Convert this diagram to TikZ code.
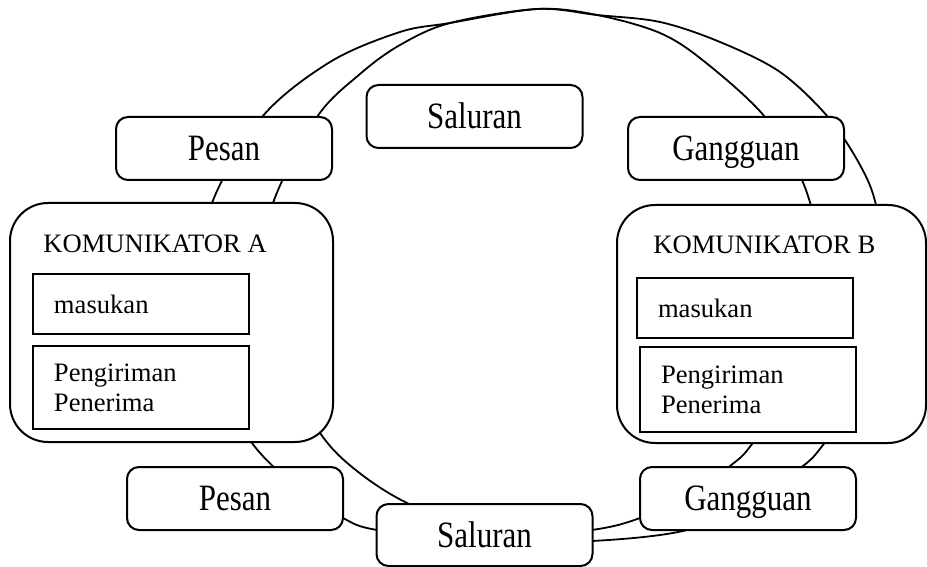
\documentclass[tikz,border=0pt]{standalone}
\usepackage{fontspec}
\setmainfont{Liberation Serif}
\usepackage{tikz}
\newcommand{\tallword}[1]{\scalebox{1}[1.2]{#1}}

\begin{document}
\begin{tikzpicture}[x=0.5pt, y=-0.5pt,
    ring/.style={line width=0.9pt},
    pill/.style={draw, line width=1pt, fill=white, rounded corners=6pt,
      minimum width=108pt, minimum height=31.5pt, inner sep=0pt,
      text height=12.3pt, text depth=0pt,
      font=\fontsize{15.5}{18}\selectfont},
    bigbox/.style={draw, line width=1pt, fill=white, rounded corners=19pt, inner sep=0pt},
    part/.style={draw, line width=1.1pt, fill=white, inner xsep=10.5pt, inner ysep=0pt,
      text width=87pt, align=left, font=\fontsize{13.3}{15}\selectfont},
    title/.style={anchor=base west, inner sep=0pt, font=\fontsize{13.3}{15}\selectfont}]
    \useasboundingbox (0,0) rectangle (927,567);

    % the two rings behind the boxes
    \draw[ring] plot[smooth cycle, tension=0.55] coordinates {
        (450,23) (537,9) (597,15) (660,33) (705,62) (765,117) (802,180)
        (818,240) (818,305) (800,370) (752,444) (730,466) (690,495) (640,518)
        (592,530) (480,542) (377,530) (343,518) (300,490) (252,443) (212,370)
        (198,286) (212,203) (262,117) (330,62) (400,32)};
    \draw[ring] plot[smooth cycle, tension=0.55] coordinates {
        (450,23) (537,9) (597,15) (660,22) (720,42) (780,72) (828,117)
        (860,165) (876,205) (887,278) (876,350) (855,400) (823,445) (803,466)
        (752,500) (687,530) (592,541) (500,540) (407,503) (352,467) (318,430)
        (280,360) (263,274) (273,203) (317,117) (360,74) (400,45)};

    % top row
    \node[pill] (pesanTop) at (224,148.5) {\tallword{Pesan}};
    \node[pill] (saluranTop) at (474.5,116.5) {\tallword{Saluran}};
    \node[pill] (gangguanTop) at (736,148.5) {\tallword{Gangguan}};

    % communicators
    \node[bigbox, minimum width=161.5pt, minimum height=119.5pt] (komA) at (171.5,322.5) {};
    \node[title] (titleA) at (43,252) {KOMUNIKATOR A};
    \node[part, minimum height=30pt] (masukA) at (141,304) {masukan};
    \node[part, minimum height=41.5pt] (kirimA) at (141,387.5) {Pengiriman\\Penerima};

    \node[bigbox, minimum width=154.5pt, minimum height=119pt] (komB) at (771.5,324) {};
    \node[title] (titleB) at (653,253) {KOMUNIKATOR B};
    \node[part, minimum height=30pt] (masukB) at (745,308) {masukan};
    \node[part, minimum height=42.5pt] (kirimB) at (748,389.5) {Pengiriman\\Penerima};

    % bottom row
    \node[pill] (pesanBot) at (235,498.5) {\tallword{Pesan}};
    \node[pill, minimum height=31pt] (saluranBot) at (484.5,535) {\tallword{Saluran}};
    \node[pill] (gangguanBot) at (748,498.5) {\tallword{Gangguan}};
\end{tikzpicture}
\end{document}
